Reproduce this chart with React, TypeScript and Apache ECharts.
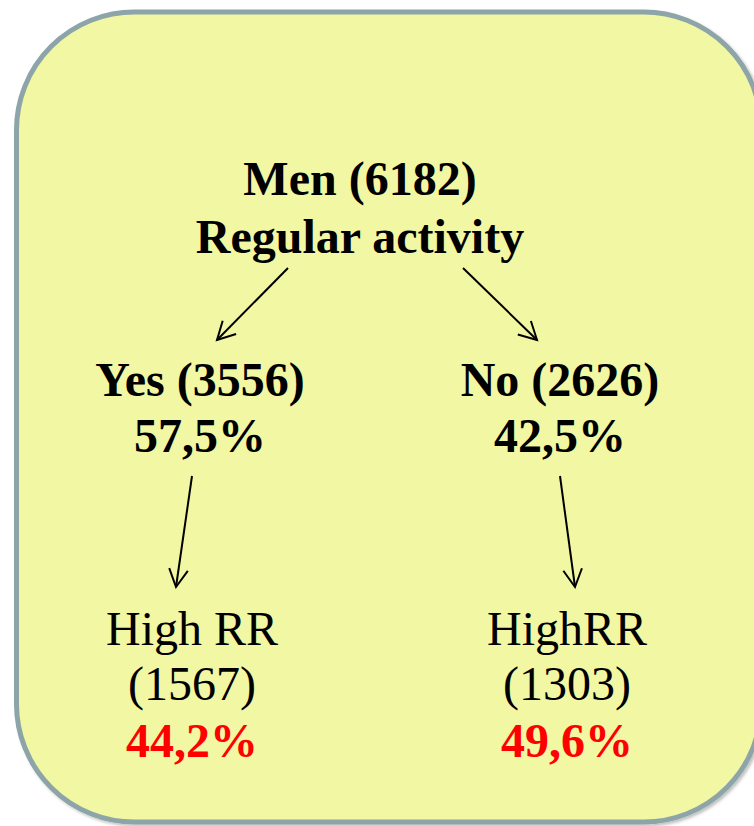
import React, { useEffect, useRef } from "react";
import * as echarts from "echarts";

// ---- data ----
const rootTitle = "Men";
const rootCount = 6182;
const rootQuestion = "Regular activity";
const branchNames = ["Yes", "No"];
const branchCounts = [3556, 2626];
const branchPercents = ["57,5%", "42,5%"];
const outcomeNames = ["High RR", "HighRR"];
const outcomeCounts = [1567, 1303];
const outcomePercents = ["44,2%", "49,6%"];

const FONT = "'Liberation Serif', 'Times New Roman', Times, serif";

function txt(text: string, cx: number, baseline: number, size: number, bold: boolean, color = "#000") {
  return {
    type: "text",
    silent: true,
    style: {
      text,
      x: cx,
      y: baseline - size * 0.34,
      align: "center",
      verticalAlign: "middle",
      fontFamily: FONT,
      fontSize: size,
      fontWeight: bold ? "bold" : "normal",
      fill: color,
    },
  };
}

function arrow(x1: number, y1: number, x2: number, y2: number) {
  const dx = x2 - x1;
  const dy = y2 - y1;
  const len = Math.sqrt(dx * dx + dy * dy);
  const ux = dx / len;
  const uy = dy / len;
  const L = 20;
  const a = (28 * Math.PI) / 180;
  const rot = (ang: number) => [
    x2 - L * (ux * Math.cos(ang) - uy * Math.sin(ang)),
    y2 - L * (ux * Math.sin(ang) + uy * Math.cos(ang)),
  ];
  const p1 = rot(a);
  const p2 = rot(-a);
  return {
    type: "group",
    silent: true,
    children: [
      { type: "line", shape: { x1, y1, x2, y2 }, style: { stroke: "#000", lineWidth: 2 } },
      {
        type: "polyline",
        shape: { points: [p1, [x2, y2], p2] },
        style: { stroke: "#000", lineWidth: 2, fill: null },
      },
    ],
  };
}

export default function App() {
  const ref = useRef<HTMLDivElement>(null);
  useEffect(() => {
    if (!ref.current) return;
    const chart = echarts.init(ref.current, null, { renderer: "svg" });
    const colX = [200, 560];
    const outX = [192, 567];
    const S = 48;
    const elements: any[] = [
      {
        type: "rect",
        silent: true,
        shape: { x: 16.5, y: 12, width: 745, height: 810, r: 118 },
        style: {
          fill: "#f1f7a2",
          stroke: "#8da4a8",
          lineWidth: 5,
          shadowBlur: 3,
          shadowOffsetX: 2,
          shadowOffsetY: 2,
          shadowColor: "rgba(0,0,0,0.25)",
        },
      },
      txt(`${rootTitle} (${rootCount})`, 360, 195, S, true),
      txt(rootQuestion, 360, 253, S, true),
      arrow(288, 268, 217, 340),
      arrow(463, 268, 537, 340),
    ];
    branchNames.forEach((n, i) => {
      elements.push(txt(`${n} (${branchCounts[i]})`, colX[i], 396, S, true));
      elements.push(txt(branchPercents[i], colX[i], 452, S, true));
    });
    elements.push(arrow(192, 476, 176, 587));
    elements.push(arrow(560, 476, 575, 587));
    outcomeNames.forEach((n, i) => {
      elements.push(txt(n, outX[i], 645, S, false));
      elements.push(txt(`(${outcomeCounts[i]})`, outX[i], 700, S, false));
      elements.push(txt(outcomePercents[i], outX[i], 757, S, true, "#ff0000"));
    });
    chart.setOption({
      animation: false,
      backgroundColor: "#ffffff",
      graphic: { elements },
    });
    return () => chart.dispose();
  }, []);
  return (
    <div
      ref={ref}
      style={{ position: "fixed", left: 0, top: 0, width: 754, height: 826 }}
    />
  );
}
